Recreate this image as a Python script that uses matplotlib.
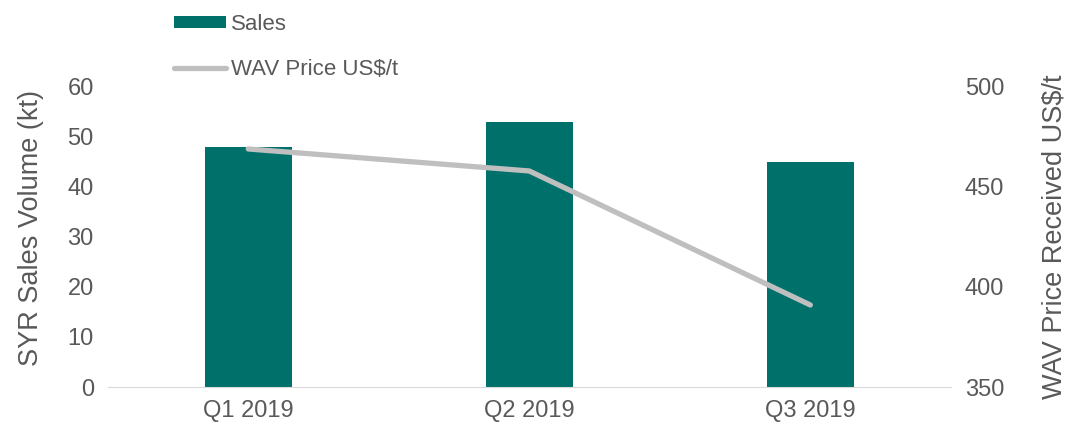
import matplotlib
matplotlib.use("Agg")
import matplotlib.pyplot as plt
from matplotlib.patches import Patch
from matplotlib.lines import Line2D

plt.rcParams['font.family'] = ['Liberation Sans', 'DejaVu Sans']

categories = ["Q1 2019", "Q2 2019", "Q3 2019"]
sales_kt = [48, 53, 45]
wav_price = [469, 458, 391]

teal = "#00716A"
gray_line = "#BFBFBF"
txt = "#595959"

fig = plt.figure(figsize=(10.66, 4.25), dpi=100)
ax = fig.add_axes([0.101, 0.0894, 0.791, 0.706])
x = list(range(len(categories)))
ax.bar(x, sales_kt, width=0.31, color=teal, zorder=2)
ax.set_xlim(-0.5, 2.5)
ax.set_ylim(0, 60)
ax.set_yticks(range(0, 61, 10))
ax.set_xticks(x)
ax.set_xticklabels(categories)
ax.set_ylabel("SYR Sales Volume (kt)", fontsize=19.5, color=txt)
ax.yaxis.set_label_coords(-0.076, 0.53)

ax2 = ax.twinx()
ax2.plot(x, wav_price, color=gray_line, linewidth=3.8, solid_capstyle='round', zorder=3)
ax2.set_ylim(350, 500)
ax2.set_yticks(range(350, 501, 50))
ax2.set_ylabel("WAV Price Received US$/t", fontsize=19.5, color=txt, labelpad=27)

for a in (ax, ax2):
    for s in a.spines.values():
        s.set_visible(False)
    a.tick_params(length=0, labelsize=17, labelcolor=txt, pad=10)
ax.spines['bottom'].set_visible(True)
ax.spines['bottom'].set_color("#D9D9D9")
ax.tick_params(axis='x', pad=9)

handles = [Patch(facecolor=teal, edgecolor='none'),
           Line2D([0], [0], color=gray_line, linewidth=3.8, solid_capstyle='round')]
fig.legend(handles, ["Sales", "WAV Price US$/t"], loc='upper left',
           bbox_to_anchor=(0.163, 0.968), frameon=False, fontsize=16,
           labelcolor=txt, handlelength=2.35, handletextpad=0.22,
           labelspacing=1.1, handleheight=0.45, borderpad=0, borderaxespad=0)

fig.savefig("out.png", dpi=100)
